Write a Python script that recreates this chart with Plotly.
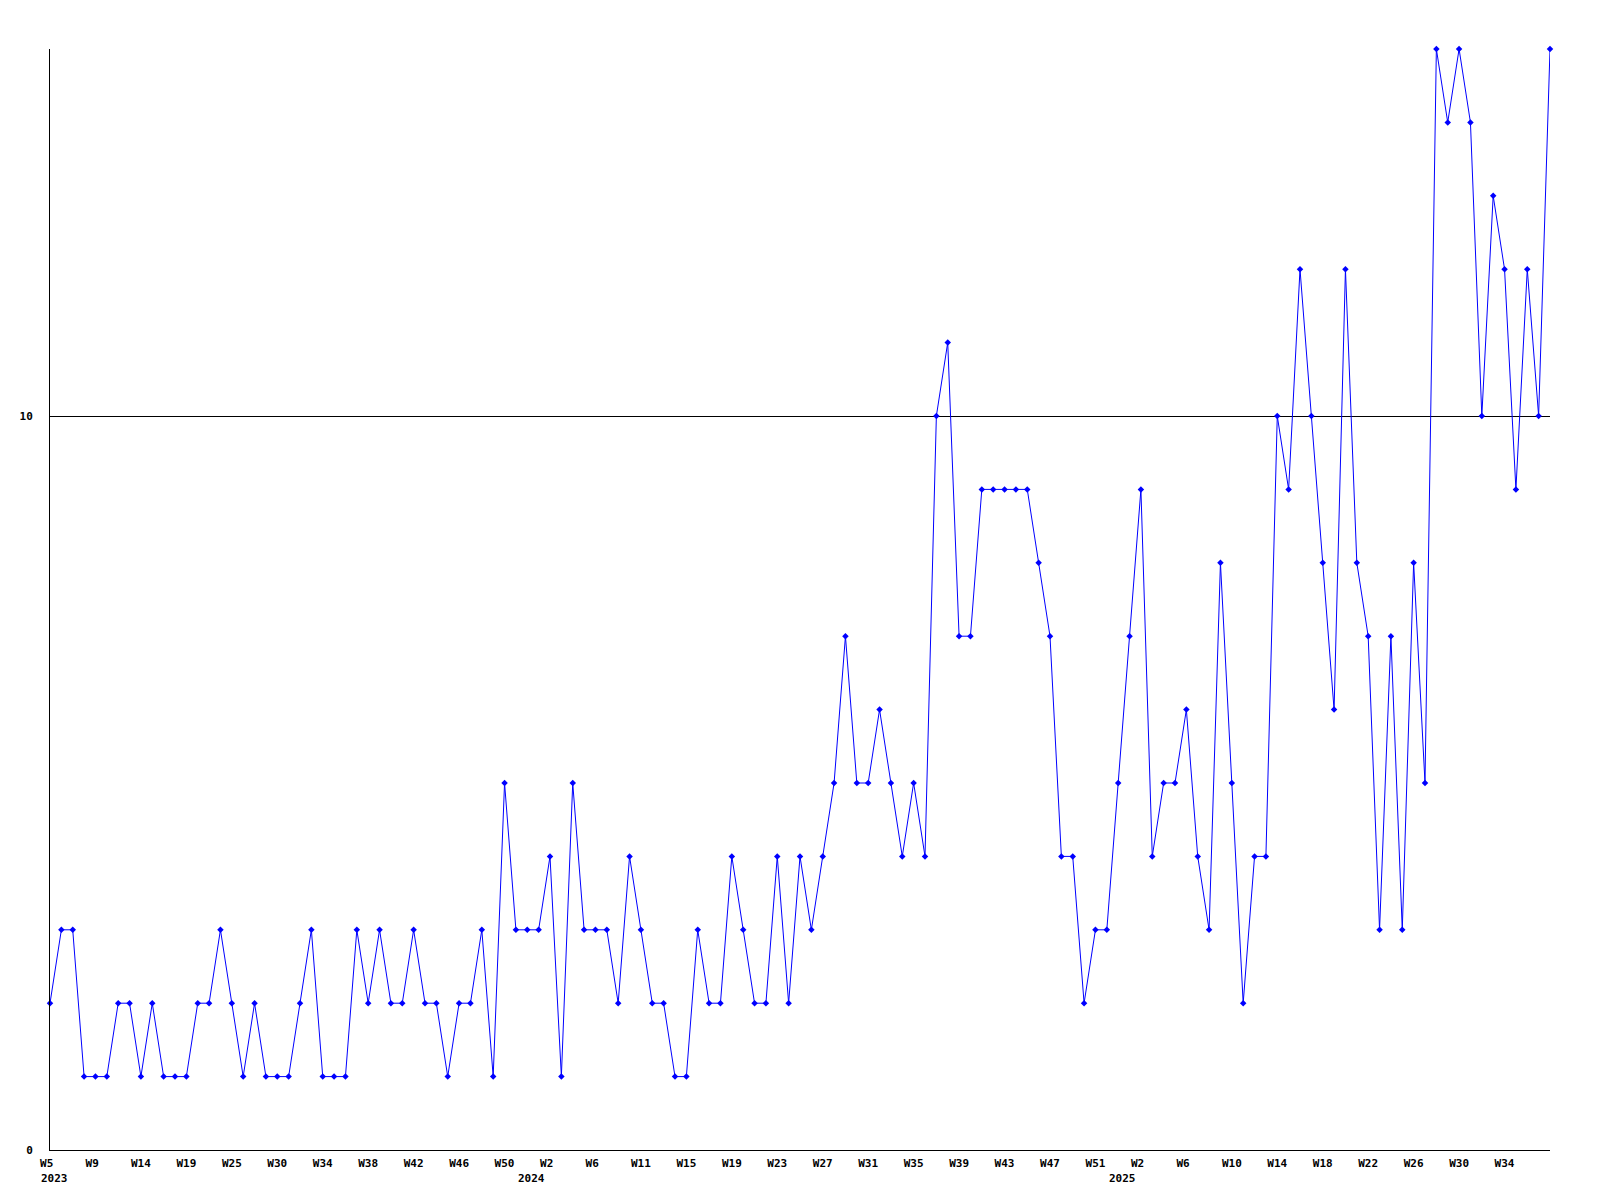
import plotly.graph_objects as go

values = [2, 3, 3, 1, 1, 1, 2, 2, 1, 2, 1, 1, 1, 2, 2, 3, 2, 1, 2, 1,
          1, 1, 2, 3, 1, 1, 1, 3, 2, 3, 2, 2, 3, 2, 2, 1, 2, 2, 3, 1,
          5, 3, 3, 3, 4, 1, 5, 3, 3, 3, 2, 4, 3, 2, 2, 1, 1, 3, 2, 2,
          4, 3, 2, 2, 4, 2, 4, 3, 4, 5, 7, 5, 5, 6, 5, 4, 5, 4, 10, 11,
          7, 7, 9, 9, 9, 9, 9, 8, 7, 4, 4, 2, 3, 3, 5, 7, 9, 4, 5, 5,
          6, 4, 3, 8, 5, 2, 4, 4, 10, 9, 12, 10, 8, 6, 12, 8, 7, 3, 7, 3,
          8, 5, 15, 14, 15, 14, 10, 13, 12, 9, 12, 10, 15]

week_labels = ["W5", "W9", "W14", "W19", "W25", "W30", "W34", "W38", "W42", "W46",
               "W50", "W2", "W6", "W11", "W15", "W19", "W23", "W27", "W31", "W35",
               "W39", "W43", "W47", "W51", "W2", "W6", "W10", "W14", "W18", "W22",
               "W26", "W30", "W34"]
label_step = 4
year_labels = ["2023", "2024", "2025"]
year_positions = [0, 42, 94]
y_ticks = [0, 10]

x = list(range(len(values)))
tickvals = [i * label_step for i in range(len(week_labels))]
# labels in the reference are left-aligned; pad short ones so they sit the same way
ticktext = [lbl.ljust(3, "\u00a0") for lbl in week_labels]

font_family = "DejaVu Sans Mono"

fig = go.Figure()
fig.add_trace(go.Scatter(
    x=x, y=values, mode="lines+markers",
    line=dict(color="#0000ff", width=1),
    marker=dict(symbol="diamond", size=5, color="#0000ff"),
    showlegend=False, cliponaxis=False,
))

for lbl, pos in zip(year_labels, year_positions):
    fig.add_annotation(
        x=pos, y=0, xref="x", yref="paper", text=lbl, showarrow=False,
        xanchor="left", yanchor="top", xshift=-11, yshift=-20,
        font=dict(family=font_family, size=11, color="black", weight="bold"),
    )

fig.update_layout(
    width=1600, height=1200,
    margin=dict(l=42, r=58, t=41, b=58),
    paper_bgcolor="white", plot_bgcolor="white",
    font=dict(family=font_family, size=11, color="black", weight="bold"),
    xaxis=dict(
        range=[0, len(values) - 1], tickvals=tickvals, ticktext=ticktext,
        showgrid=False, zeroline=False, showline=True, linecolor="black",
        linewidth=1, ticks="", tickangle=0, ticklabelstandoff=3,
        tickfont=dict(family=font_family, size=11, color="black", weight="bold"),
    ),
    yaxis=dict(
        range=[0, 15], tickvals=y_ticks, ticktext=[str(v) for v in y_ticks],
        showgrid=True, gridcolor="black", gridwidth=1, zeroline=False,
        showline=True, linecolor="black", linewidth=1, ticks="",
        ticklabelstandoff=14,
        tickfont=dict(family=font_family, size=11, color="black", weight="bold"),
    ),
)

fig.write_html("out.html")
